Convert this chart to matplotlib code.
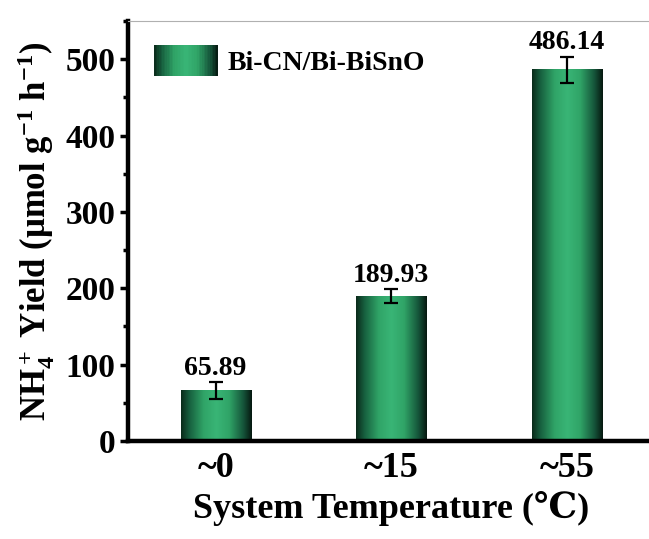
import numpy as np
import matplotlib
matplotlib.use('Agg')
import matplotlib.pyplot as plt
from matplotlib.colors import LinearSegmentedColormap
from matplotlib.legend_handler import HandlerBase
from matplotlib.patches import Rectangle
from matplotlib.ticker import MultipleLocator

### Data ###
categories = ['~0', '~15', '~55']
yields = [65.89, 189.93, 486.14]
errors = [11, 9, 17]
series_name = 'Bi-CN/Bi-BiSnO'

plt.rcParams['font.family'] = ['Liberation Serif', 'DejaVu Serif']
plt.rcParams['font.weight'] = 'bold'
plt.rcParams['mathtext.fontset'] = 'custom'
plt.rcParams['mathtext.rm'] = 'Liberation Serif:bold'
plt.rcParams['mathtext.it'] = 'Liberation Serif:bold'
plt.rcParams['mathtext.bf'] = 'Liberation Serif:bold'
plt.rcParams['mathtext.default'] = 'rm'

# dark edge -> green centre -> dark edge
green_cmap = LinearSegmentedColormap.from_list(
    'bar_green',
    [(0.0, '#0a2a1a'), (0.12, '#17603f'), (0.32, '#30a467'),
     (0.5, '#39b576'), (0.68, '#30a467'), (0.88, '#15553a'), (1.0, '#061810')])
grad = np.linspace(0, 1, 256).reshape(1, -1)


class HandlerGradient(HandlerBase):
    def create_artists(self, legend, orig_handle, xdescent, ydescent,
                       width, height, fontsize, trans):
        n = 40
        arts = []
        for i in range(n):
            r = Rectangle((-xdescent + width * i / n, -ydescent), width / n + 0.3, height,
                          facecolor=green_cmap((i + 0.5) / n), edgecolor='none',
                          transform=trans)
            arts.append(r)
        return arts


fig = plt.figure(figsize=(6.49, 5.39), dpi=100)
ax = fig.add_axes([0.197, 0.182, 0.812, 0.779])

x = np.arange(len(categories))
bar_w = 0.4
bars = ax.bar(x, yields, width=bar_w, color='none', edgecolor='none', zorder=2)
for b in bars:
    ax.imshow(grad, cmap=green_cmap, aspect='auto', zorder=2,
              extent=[b.get_x(), b.get_x() + b.get_width(), 0, b.get_height()])

ax.errorbar(x, yields, yerr=errors, fmt='none', ecolor='black', elinewidth=1.6,
            capsize=5, capthick=1.6, zorder=3)

for xi, v, e in zip(x, yields, errors):
    ax.annotate('{:.2f}'.format(v), (xi, v + e), xytext=(0, 1), textcoords='offset points',
                ha='center', va='bottom', fontsize=20, fontweight='bold')

ax.set_xlim(-0.5, 2.5)
ax.set_ylim(0, 550)
ax.set_xticks(x)
ax.set_xticklabels(categories)
ax.yaxis.set_major_locator(MultipleLocator(100))
ax.yaxis.set_minor_locator(MultipleLocator(50))
ax.tick_params(axis='x', length=0, labelsize=26, pad=8)
ax.tick_params(axis='y', which='major', direction='out', length=6, width=2.5,
               labelsize=24, pad=3)
ax.tick_params(axis='y', which='minor', direction='out', length=3.5, width=2.5)

ax.spines['left'].set_linewidth(3.2)
ax.spines['bottom'].set_linewidth(3.2)
ax.spines['top'].set_linewidth(0.8)
ax.spines['top'].set_color('#b0b0b0')
ax.spines['right'].set_visible(False)

ax.set_xlabel('System Temperature (\u2103)', fontsize=26, fontweight='bold', labelpad=4)
ax.set_ylabel('NH$_4^+$ Yield (\u03bcmol g$^{-1}$ h$^{-1}$)', fontsize=25,
              fontweight='bold', labelpad=6)

proxy = Rectangle((0, 0), 1, 1)
ax.legend([proxy], [series_name], handler_map={Rectangle: HandlerGradient()},
          loc='upper left', frameon=False, fontsize=20, handlelength=2.3,
          handleheight=1.35, handletextpad=0.35, borderaxespad=0.3,
          bbox_to_anchor=(0.013, 0.99))

fig.savefig('out.png', dpi=100)
